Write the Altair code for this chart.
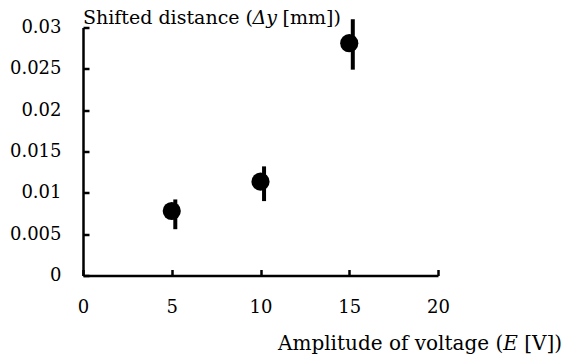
import altair as alt
import pandas as pd

# Measured shift for each drive amplitude
voltage = [5, 10, 15]
shift = [0.0078, 0.01135, 0.0281]

# Error bars (drawn slightly to the right of each marker)
bar_voltage = [5.2, 10.2, 15.2]
shift_low = [0.0056, 0.0090, 0.0249]
shift_high = [0.0092, 0.0132, 0.0310]

x_ticks = [0, 5, 10, 15, 20]
y_ticks = [0, 0.005, 0.01, 0.015, 0.02, 0.025, 0.03]

# Title pieces (plain / italic / plain)
y_title = ["Shifted distance (", "\u0394y", "[mm])"]
x_title = ["Amplitude of voltage (", "E", "[V])"]

W, H = 355, 248
FONT = "DejaVu Serif"
TICK_FS = 18
Y_TITLE_FS = 19
X_TITLE_FS = 20

df = pd.DataFrame({
    "voltage": voltage,
    "shift": shift,
    "bar_voltage": bar_voltage,
    "shift_low": shift_low,
    "shift_high": shift_high,
})

x_scale = alt.Scale(domain=[0, 20], nice=False, zero=False)
y_scale = alt.Scale(domain=[0, 0.03], nice=False)

# Inward-pointing ticks: the x axis sits on top orientation moved to the bottom
# edge, the y axis on right orientation moved to the left edge.
x_axis = alt.Axis(
    orient="top", offset=-H, values=x_ticks, title=None, grid=False,
    tickSize=6, tickWidth=2.5, tickColor="black",
    domainColor="black", domainWidth=2.5,
    labelFont=FONT, labelFontSize=TICK_FS, labelColor="black",
    labelAlign="center", labelBaseline="alphabetic", labelPadding=-42.5,
    labelFlush=False, labelOverlap=False, format="~g",
)
y_axis = alt.Axis(
    orient="right", offset=-W, values=y_ticks, title=None, grid=False,
    tickSize=6, tickWidth=2.5, tickColor="black",
    domainColor="black", domainWidth=2.5,
    labelFont=FONT, labelFontSize=TICK_FS, labelColor="black",
    labelAlign="right", labelBaseline="middle", labelPadding=-28,
    labelFlush=False, labelOverlap=False, format="~g",
)

base = alt.Chart(df)

points = base.mark_point(filled=True, size=330, color="black", opacity=1).encode(
    x=alt.X("voltage:Q", scale=x_scale, axis=x_axis),
    y=alt.Y("shift:Q", scale=y_scale, axis=y_axis),
)

bars = base.mark_rule(color="black", strokeWidth=4).encode(
    x=alt.X("bar_voltage:Q", scale=x_scale, axis=x_axis),
    y=alt.Y("shift_low:Q", scale=y_scale, axis=y_axis),
    y2="shift_high:Q",
)


def piece(text, x, y, size, italic=False):
    return alt.Chart(pd.DataFrame({"t": [text]})).mark_text(
        font=FONT, fontSize=size, fontStyle="italic" if italic else "normal",
        align="left", baseline="alphabetic", color="black",
    ).encode(text="t:N", x=alt.value(x), y=alt.value(y))


# y-axis title across the top-left
yt = [
    piece(y_title[0], 0, -4, Y_TITLE_FS),
    piece(y_title[1], 169.6, -4, Y_TITLE_FS, italic=True),
    piece(y_title[2], 199.6, -4, Y_TITLE_FS),
]
# x-axis title at the lower right
xt = [
    piece(x_title[0], 195, 322.5, X_TITLE_FS),
    piece(x_title[1], 420.3, 322.5, X_TITLE_FS, italic=True),
    piece(x_title[2], 441.3, 322.5, X_TITLE_FS),
]

chart = alt.layer(points, bars, *yt, *xt).properties(
    width=W, height=H,
    autosize="none",
    padding={"left": 83, "top": 27.5, "right": 124, "bottom": 84.5},
    background="white",
).configure_view(stroke=None)

chart.save("out.html", embed_options={"renderer": "svg", "actions": False})
